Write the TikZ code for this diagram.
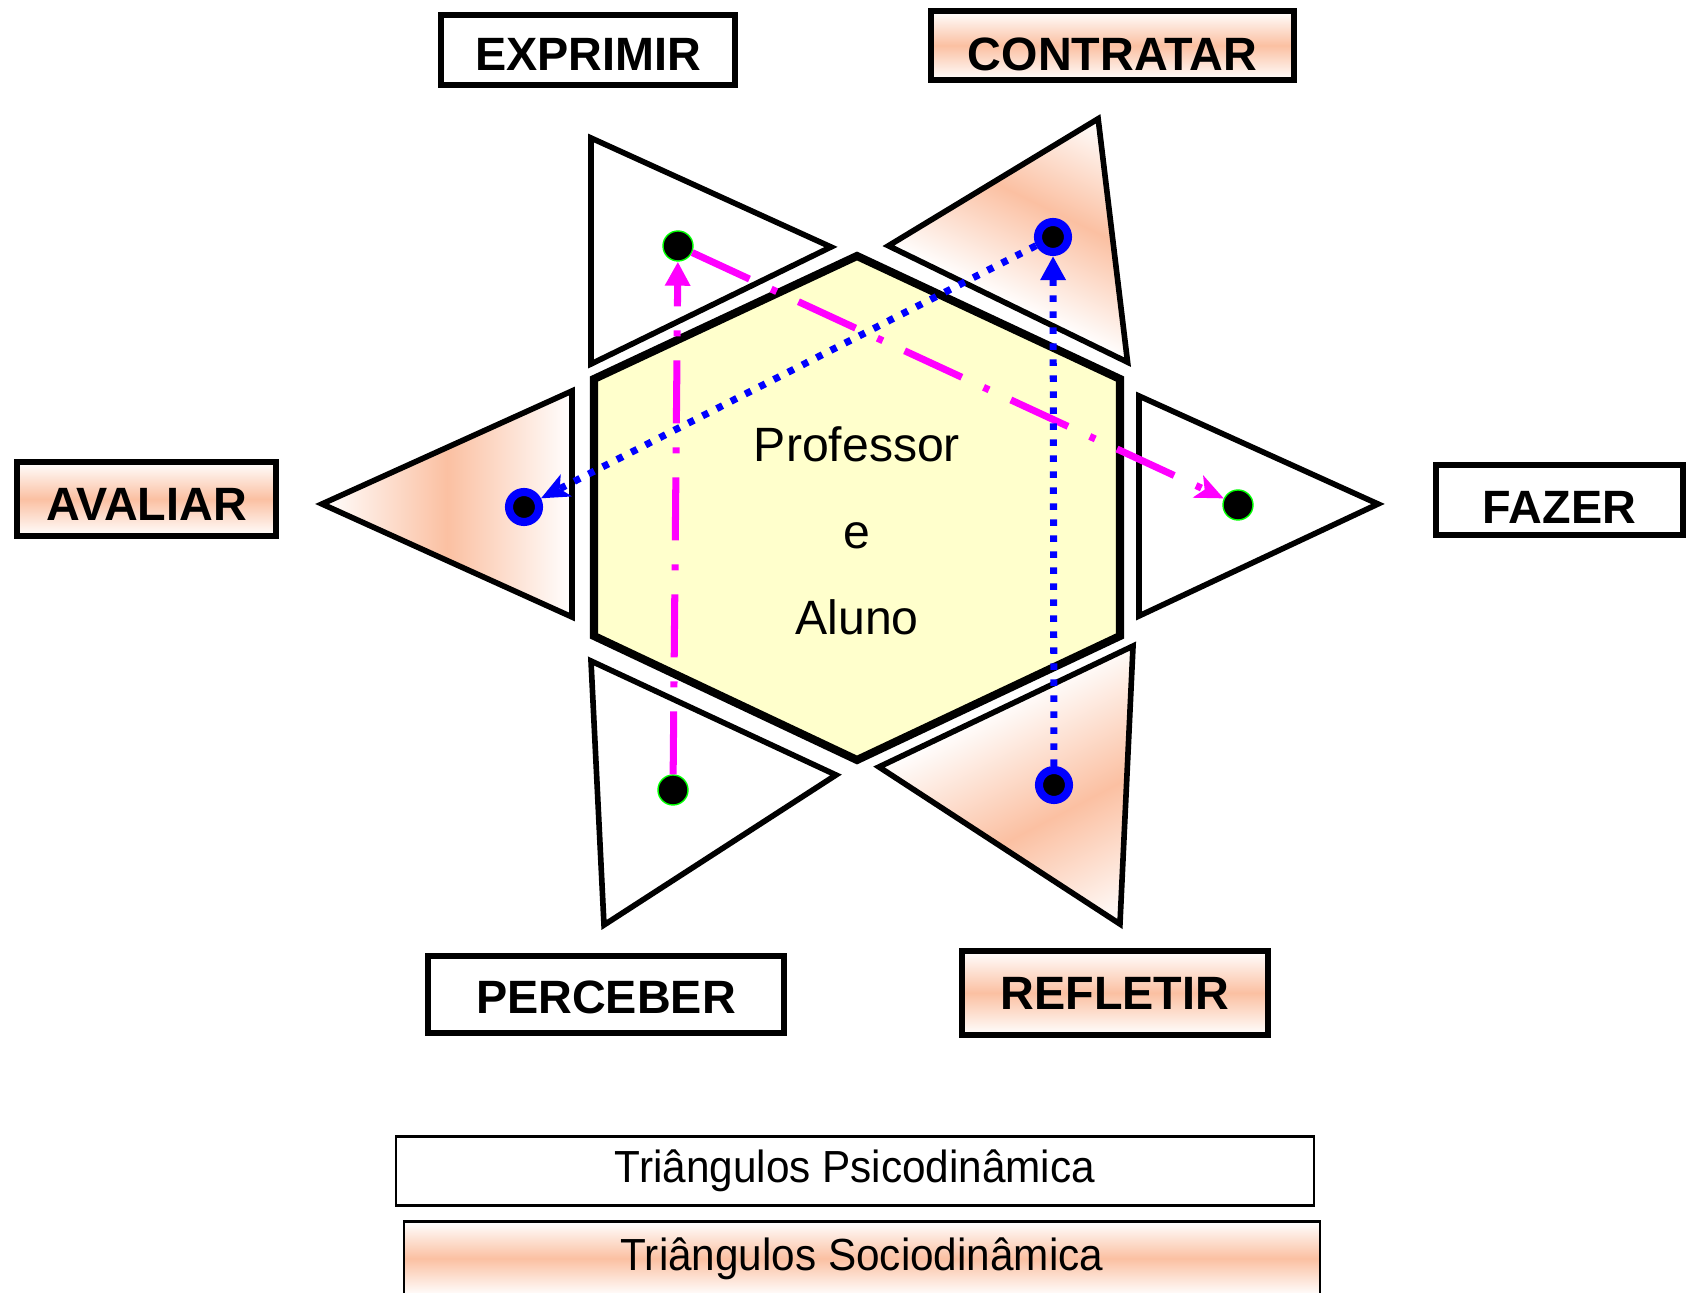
\documentclass[tikz,border=0pt]{standalone}
\usepackage{fontspec}
\setmainfont{Liberation Sans}
\newfontfamily\legendafont[FakeStretch=0.94]{Liberation Sans}
\usetikzlibrary{arrows.meta}

\definecolor{pessego}{RGB}{251,192,162}
\definecolor{amarelo}{RGB}{255,255,204}
\definecolor{rosa}{RGB}{255,0,255}
\definecolor{azul}{RGB}{0,0,255}
\definecolor{verde}{RGB}{0,255,0}

\tikzset{
  tri psico/.style={draw=black, line width=1.6pt, fill=white},
  tri socio/.style={draw=black, line width=1.6pt, left color=white, right color=white, middle color=pessego},
  rotulo/.style={draw=black, line width=1.7pt, inner sep=0pt, text depth=0pt, font=\bfseries\fontsize{13.3}{16}\selectfont},
  rotulo psico/.style={rotulo, fill=white},
  rotulo socio/.style={rotulo, top color=white, bottom color=white, middle color=pessego},
  legenda/.style={draw=black, line width=0.7pt, inner sep=0pt, font=\legendafont\fontsize{12.8}{15}\selectfont},
  ponto psico/.style={circle, inner sep=0pt, minimum size=3mm, fill=black, draw=verde, line width=0.4pt},
  ponto socio/.style={circle, inner sep=0pt, minimum size=3mm, fill=black, draw=azul, line width=2.3pt},
  seta psico/.style={draw=rosa, line width=2pt, dash pattern=on 6.3mm off 2.4mm on 0.6mm off 2.4mm},
  seta socio/.style={draw=azul, line width=2pt, dash pattern=on 0.65mm off 0.95mm},
}

\begin{document}
\begin{tikzpicture}[x=0.1mm, y=-0.1mm]
  \useasboundingbox (0,0) rectangle (1686,1293);

  % triangulos psicodinamica
  \filldraw[tri psico] (591,138) -- (831,247) -- (591,364) -- cycle;
  \filldraw[tri psico] (1139,396) -- (1378,504) -- (1139,616) -- cycle;
  \filldraw[tri psico] (591,661) -- (836,775) -- (604,925) -- cycle;

  % triangulos sociodinamica
  \draw[tri socio] (322,504) -- (572,391) -- (572,617) -- cycle;
  \begin{scope}[transform canvas={shift={(1008,304)}, rotate=64.05}]
    \draw[tri socio] (206,0) -- (0,-133) -- (0,133) -- cycle;
  \end{scope}
  \begin{scope}[transform canvas={shift={(1006,706.5)}, rotate=-62.35}]
    \draw[tri socio] (245.6,0) -- (5.4,-140.6) -- (-5.4,140.6) -- cycle;
  \end{scope}

  % hexagono central
  \filldraw[draw=black, fill=amarelo, line width=2.3pt]
    (857,256) -- (1120,379) -- (1120,636) -- (857,760) -- (594,636) -- (594,379) -- cycle;
  \node[align=center, font=\fontsize{13.7}{24.6}\selectfont] (centro) at (857,531) {Professor\\e\\Aluno};

  % rotulos
  \node[rotulo psico, text height=11.8pt, minimum width=29.4mm, minimum height=7mm] (exprimir) at (588,50) {EXPRIMIR};
  \node[rotulo socio, text height=14.1pt, minimum width=36.3mm, minimum height=6.9mm] (contratar) at (1112.5,45.5) {CONTRATAR};
  \node[rotulo socio, text height=12.4pt, minimum width=25.9mm, minimum height=7.4mm] (avaliar) at (146.5,499) {AVALIAR};
  \node[rotulo psico, text height=13.5pt, minimum width=24.7mm, minimum height=7mm] (fazer) at (1559.5,500) {FAZER};
  \node[rotulo psico, text height=10.7pt, minimum width=35.6mm, minimum height=7.7mm] (perceber) at (606,994.5) {PERCEBER};
  \node[rotulo socio, text height=9.5pt, minimum width=30.6mm, minimum height=8.4mm] (refletir) at (1115,993) {REFLETIR};

  % pontos
  \node[ponto psico] (p exprimir) at (678,246) {};
  \node[ponto psico] (p fazer) at (1238,505) {};
  \node[ponto psico] (p perceber) at (673,790) {};
  \node[ponto socio] (p avaliar) at (524,507) {};
  \node[ponto socio] (p contratar) at (1053,237) {};
  \node[ponto socio] (p refletir) at (1054,785) {};

  % setas
  \draw[seta psico, -{Triangle[length=2.4mm, width=2.4mm]}] (p perceber) -- (p exprimir);
  \draw[seta psico, -{Stealth[length=2.8mm, width=2.4mm, inset=0.7mm]}] (p exprimir) -- (p fazer);
  \draw[seta socio, -{Triangle[length=2.4mm, width=2.4mm]}] (p refletir) -- (p contratar);
  \draw[seta socio, -{Stealth[length=2.8mm, width=2.4mm, inset=0.7mm]}] (p contratar) -- (p avaliar);

  % legenda
  \node[legenda, fill=white, minimum width=91.8mm, minimum height=6.9mm] (psico) at (855,1171) {Triângulos Psicodinâmica};
  \node[legenda, top color=white, bottom color=white, middle color=pessego, minimum width=91.6mm, minimum height=7.4mm] (socio) at (862,1258.5) {Triângulos Sociodinâmica};
\end{tikzpicture}
\end{document}
